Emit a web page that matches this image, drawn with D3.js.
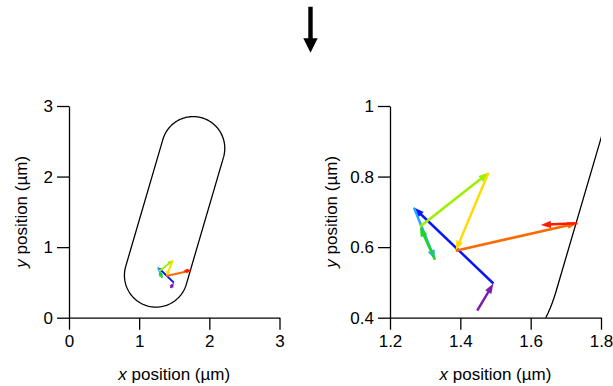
<!DOCTYPE html>
<html>
<head>
<meta charset="utf-8">
<script src="https://cdn.jsdelivr.net/npm/d3@7"></script>
<style>
  html, body { margin: 0; padding: 0; background: #fff; }
  svg { display: block; font-family: "Liberation Sans", Arial, sans-serif; }
</style>
</head>
<body>
<svg id="chart" width="613" height="386"></svg>
<script>
// Trajectory of the tracked spot, in µm (consecutive positions)
const trackX = [1.448, 1.494, 1.268, 1.328, 1.285, 1.480, 1.387, 1.733, 1.629];
const trackY = [0.420, 0.497, 0.712, 0.564, 0.658, 0.811, 0.590, 0.668, 0.663];
// Colour of each step, running through the spectrum from first to last
const stepColors = ["#7c1fa6", "#0a14ff", "#22a8ff", "#1fd61f", "#9cef00", "#ffdc00", "#ff6a00", "#ff1a00"];

// Cell outline: a capsule given by its two cap centres and radius (µm)
const capStart = [1.24, 0.60];
const capEnd = [1.77, 2.40];
const capRadius = 0.45;

// Axis ticks
const fullTicks = [0, 1, 2, 3];
const fullTickLabels = ["0", "1", "2", "3"];
const zoomXTicks = [1.2, 1.4, 1.6, 1.8];
const zoomXTickLabels = ["1.2", "1.4", "1.6", "1.8"];
const zoomYTicks = [0.4, 0.6, 0.8, 1.0];
const zoomYTickLabels = ["0.4", "0.6", "0.8", "1"];

const FONT = "17px";
const svg = d3.select("#chart");

// Downward arrow above the panels
svg.append("path")
  .attr("d", "M308.3,6.7 L312.7,6.7 L312.7,38.3 L317.7,38.3 L310.5,52.8 L303.3,38.3 L308.3,38.3 Z")
  .attr("fill", "#000");

// Outline points of the capsule, traced around both caps
function capsuleOutline() {
  const dx = capEnd[0] - capStart[0], dy = capEnd[1] - capStart[1];
  const ang = Math.atan2(dy, dx);
  const pts = [];
  const n = 90;
  for (let i = 0; i <= n; i++) {
    const a = ang - Math.PI / 2 + Math.PI * i / n;
    pts.push([capEnd[0] + capRadius * Math.cos(a), capEnd[1] + capRadius * Math.sin(a)]);
  }
  for (let i = 0; i <= n; i++) {
    const a = ang + Math.PI / 2 + Math.PI * i / n;
    pts.push([capStart[0] + capRadius * Math.cos(a), capStart[1] + capRadius * Math.sin(a)]);
  }
  pts.push(pts[0]);
  return pts;
}

function drawPanel(opt) {
  const x = d3.scaleLinear().domain(opt.xDomain).range([opt.left, opt.right]);
  const y = d3.scaleLinear().domain(opt.yDomain).range([opt.bottom, opt.top]);
  const g = svg.append("g");

  const clipId = "clip" + opt.id;
  svg.append("defs").append("clipPath").attr("id", clipId)
    .append("rect")
    .attr("x", opt.left).attr("y", opt.top)
    .attr("width", opt.right - opt.left).attr("height", opt.bottom - opt.top);

  const plot = g.append("g").attr("clip-path", `url(#${clipId})`);

  // cell outline
  plot.append("path")
    .datum(capsuleOutline())
    .attr("d", d3.line().x(d => x(d[0])).y(d => y(d[1])))
    .attr("fill", "none")
    .attr("stroke", "#000")
    .attr("stroke-width", 1.3);

  // trajectory steps as coloured arrows
  for (let i = 0; i < stepColors.length; i++) {
    const x0 = x(trackX[i]), y0 = y(trackY[i]);
    const x1 = x(trackX[i + 1]), y1 = y(trackY[i + 1]);
    const len = Math.hypot(x1 - x0, y1 - y0);
    const ux = (x1 - x0) / len, uy = (y1 - y0) / len;
    const bx = x1 - ux * opt.headLen, by = y1 - uy * opt.headLen;
    plot.append("line")
      .attr("x1", x0).attr("y1", y0)
      .attr("x2", x1 - ux * opt.headLen * 0.6).attr("y2", y1 - uy * opt.headLen * 0.6)
      .attr("stroke", stepColors[i])
      .attr("stroke-width", opt.lineWidth);
    plot.append("path")
      .attr("d", `M${x1},${y1} L${bx - uy * opt.headHalf},${by + ux * opt.headHalf} L${bx + uy * opt.headHalf},${by - ux * opt.headHalf} Z`)
      .attr("fill", stepColors[i]);
  }

  // axes
  const xAxis = d3.axisBottom(x)
    .tickValues(opt.xTicks)
    .tickFormat((d, i) => opt.xLabels[i])
    .tickSize(12).tickSizeOuter(0).tickPadding(5);
  const yAxis = d3.axisLeft(y)
    .tickValues(opt.yTicks)
    .tickFormat((d, i) => opt.yLabels[i])
    .tickSize(12).tickSizeOuter(0).tickPadding(4);

  const gx = g.append("g").attr("transform", `translate(0,${opt.bottom})`).call(xAxis);
  const gy = g.append("g").attr("transform", `translate(${opt.left},0)`).call(yAxis);
  [gx, gy].forEach(a => {
    a.selectAll("path, line").attr("stroke", "#000").attr("stroke-width", 1.3);
    a.selectAll("text").attr("fill", "#000").style("font-size", FONT)
      .style("font-family", "'Liberation Sans', Arial, sans-serif");
  });

  // axis titles
  const xt = g.append("text")
    .attr("x", (opt.left + opt.right) / 2).attr("y", 380)
    .attr("text-anchor", "middle").style("font-size", FONT);
  xt.append("tspan").style("font-style", "italic").text("x");
  xt.append("tspan").text(" position (µm)");

  const yt = g.append("text")
    .attr("transform", `translate(${opt.yTitleX},${(opt.top + opt.bottom) / 2}) rotate(-90)`)
    .attr("text-anchor", "middle").style("font-size", FONT);
  yt.append("tspan").style("font-style", "italic").text("y");
  yt.append("tspan").text(" position (µm)");
}

// Whole cell
drawPanel({
  id: "full",
  xDomain: [0, 3], yDomain: [0, 3],
  left: 69, right: 279.5, top: 106, bottom: 317.7,
  xTicks: fullTicks, xLabels: fullTickLabels,
  yTicks: fullTicks, yLabels: fullTickLabels,
  headLen: 5, headHalf: 2.2, lineWidth: 2,
  yTitleX: 27
});

// Close-up of the trajectory
drawPanel({
  id: "zoom",
  xDomain: [1.2, 1.8], yDomain: [0.4, 1.0],
  left: 390, right: 601, top: 106, bottom: 317.7,
  xTicks: zoomXTicks, xLabels: zoomXTickLabels,
  yTicks: zoomYTicks, yLabels: zoomYTickLabels,
  headLen: 10, headHalf: 3.6, lineWidth: 2.5,
  yTitleX: 337
});
</script>
</body>
</html>
